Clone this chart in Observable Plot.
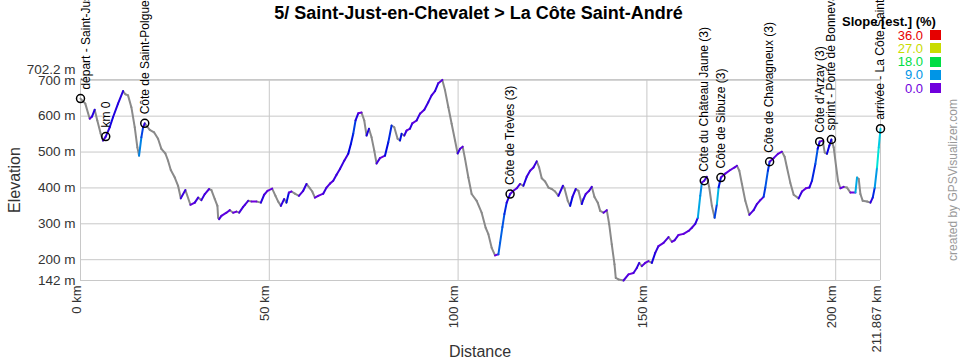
<!DOCTYPE html>
<html><head><meta charset="utf-8">
<script src="https://cdn.jsdelivr.net/npm/d3@7"></script>
<script src="https://cdn.jsdelivr.net/npm/@observablehq/plot@0.6"></script>
<style>
body{margin:0;background:#fff;font-family:"Liberation Sans",Arial,sans-serif;}
#wrap{position:relative;width:960px;height:360px;overflow:hidden;background:#fff;}
#chart{position:absolute;left:0;top:0;}
.ov{position:absolute;white-space:nowrap;}
#title{left:0;width:957px;top:3px;line-height:20px;text-align:center;font-weight:bold;font-size:18px;color:#000;}
#ylab{left:15px;top:180px;transform:translate(-50%,-50%) rotate(-90deg);font-size:16px;color:#333;}
#xlab{left:480px;top:352px;transform:translate(-50%,-50%);font-size:16px;color:#333;}
#credit{left:953px;top:180px;transform:translate(-50%,-50%) rotate(-90deg);font-size:12px;color:#999;}
#legtitle{left:842px;top:14px;line-height:15px;font-weight:bold;font-size:13px;color:#000;}
.legv{right:37px;font-size:13px;line-height:13px;text-align:right;}
.legs{left:930px;width:11px;height:10px;}
</style></head>
<body><div id="wrap"><div id="chart"></div>
<div class="ov" id="title">5/ Saint-Just-en-Chevalet &gt; La Côte Saint-André</div>
<div class="ov" id="ylab">Elevation</div>
<div class="ov" id="xlab">Distance</div>
<div class="ov" id="credit">created by GPSVisualizer.com</div>
<div class="ov" id="legtitle">Slope [est.] (%)</div>
<div id="legend"></div>
</div>
<script>
// Profile (distance in km, elevation in m)
const distKm = [
 0, 1.27, 2.44, 3.05, 3.76, 4.45, 5.35, 5.96, 6.68, 7.74,
 8.61, 9.94, 11.27, 11.88, 12.59, 13.47, 14.37, 15.06, 15.51, 16.12,
 16.57, 17.02, 17.44, 18.34, 19.48, 20.54, 21.42, 22.48, 23.19, 23.91,
 24.97, 25.84, 26.56, 27.78, 29.11, 30.27, 31.15, 32.02, 32.92, 34.06,
 34.67, 35.57, 36.26, 36.45, 36.71, 37.32, 38.65, 39.55, 40.42, 41.30,
 42.02, 43.08, 43.53, 44.40, 45.28, 46.60, 47.77, 48.64, 49.52, 50.76,
 51.64, 52.35, 53.07, 53.94, 54.55, 55.19, 55.88, 56.78, 57.84, 58.98,
 59.85, 60.76, 61.37, 62.08, 62.96, 64.28, 65.16, 66.06, 66.93, 67.81,
 68.71, 69.85, 70.91, 71.62, 72.23, 72.84, 73.56, 74.43, 75.15, 75.76,
 76.40, 77.08, 77.80, 78.41, 79.31, 80.64, 81.51, 82.39, 83.10, 83.98,
 84.61, 85.04, 85.75, 86.36, 87.26, 87.87, 89.01, 89.91, 91.05, 92.11,
 92.99, 93.89, 94.76, 95.82, 96.54, 97.42, 98.29, 99.19, 99.88, 100.52,
 101.21, 101.84, 102.72, 103.59, 104.92, 106.24, 107.30, 108.02, 108.89, 109.79,
 110.67, 111.12, 111.73, 112.26, 112.87, 113.77, 114.65, 115.52, 116.42, 117.30,
 118.17, 119.07, 119.95, 120.82, 121.46, 122.15, 123.05, 123.93, 124.80, 125.70,
 126.57, 127.76, 128.17, 129.04, 129.68, 130.29, 131.16, 131.88, 132.75, 133.20,
 133.81, 134.71, 135.40, 136.12, 136.99, 137.63, 138.50, 139.38, 140.01, 140.70,
 141.42, 141.76, 142.48, 143.81, 145.13, 146.45, 147.33, 147.96, 148.65, 149.55,
 150.43, 151.31, 152.21, 153.08, 154.41, 155.73, 156.61, 157.32, 158.38, 159.71,
 161.03, 161.91, 162.81, 163.50, 164.13, 164.56, 165.19, 165.88, 166.52, 167.21,
 167.93, 168.54, 168.99, 169.60, 170.76, 172.09, 173.23, 173.84, 174.48, 175.17,
 176.06, 177.12, 178.26, 179.14, 180.04, 180.91, 181.36, 182.05, 182.50, 183.56,
 184.70, 185.77, 186.48, 187.09, 187.99, 188.87, 190.19, 191.07, 192.13, 193.03,
 193.72, 194.62, 195.23, 195.76, 196.56, 197.09, 197.69, 198.33, 198.86, 199.47,
 200.08, 200.61, 201.25, 202.12, 203.00, 203.90, 205.22, 205.65, 206.10, 206.55,
 207.16, 208.30, 209.20, 209.81, 210.34, 210.95, 211.40, 211.867
];
const elevM = [
 649, 635, 593, 599, 618, 588, 551, 532, 543, 569,
 597, 635, 670, 661, 658, 625, 569, 513, 490, 541,
 569, 580, 574, 562, 555, 537, 509, 496, 476, 450,
 429, 406, 371, 394, 353, 359, 373, 366, 383, 397,
 394, 369, 350, 317, 313, 322, 331, 338, 331, 334,
 331, 347, 353, 364, 362, 362, 359, 381, 392, 398,
 378, 362, 350, 369, 359, 387, 390, 384, 378, 392,
 411, 399, 390, 373, 378, 384, 401, 412, 420, 437,
 453, 476, 495, 523, 551, 588, 608, 610, 588, 546,
 565, 541, 504, 468, 483, 490, 527, 574, 569, 537,
 532, 551, 546, 560, 565, 580, 588, 607, 618, 639,
 658, 670, 692, 701, 672, 625, 579, 532, 496, 509,
 515, 481, 429, 383, 364, 331, 289, 271, 233, 212,
 215, 247, 291, 327, 359, 383, 392, 399, 411, 406,
 431, 448, 457, 474, 457, 427, 418, 401, 397, 390,
 378, 406, 399, 364, 350, 375, 397, 392, 355, 369,
 383, 392, 403, 375, 359, 336, 331, 338, 299, 243,
 187, 149, 145, 142, 159, 163, 177, 191, 182, 191,
 196, 191, 219, 238, 247, 263, 250, 254, 269, 272,
 280, 289, 300, 317, 378, 415, 420, 431, 401, 350,
 317, 355, 401, 429, 440, 450, 457, 462, 448, 411,
 364, 325, 338, 355, 366, 375, 401, 448, 473, 483,
 495, 501, 487, 457, 414, 381, 371, 390, 399, 401,
 420, 467, 509, 529, 532, 499, 495, 518, 535, 513,
 462, 420, 399, 403, 401, 387, 387, 429, 425, 383,
 364, 362, 359, 373, 401, 457, 513, 565
];

// Waypoints
const wpNames = ["départ - Saint-Just-en-Chevalet", "km 0", "Côte de Saint-Polgues", "Côte de Trèves (3)",
  "Côte du Château Jaune (3)", "Côte de Sibuze (3)", "Côte de Chavagneux (3)", "Côte d'Arzay (3)",
  "sprint - Porte de Bonnevaux", "arrivée - La Côte Saint-André"];
const wpKm = [0, 6.68, 17.02, 113.77, 165.19, 169.60, 182.50, 195.76, 198.86, 211.867];
const wpElev = [649, 543, 580, 383, 420, 429, 473, 529, 535, 565];

// Axis ticks
const xTicks = [0, 50, 100, 150, 200, 211.867];
const xTickLabels = ["0 km", "50 km", "100 km", "150 km", "200 km", "211.867 km"];
const yTicks = [700, 600, 500, 400, 300, 200, 142];
const yMax = 702.2;

// Slope legend
const slopeStops = [0, 9, 18, 27, 36];
const slopeColors = ["#7000dd", "#0095e6", "#00dd44", "#c8dc00", "#e60000"];
const legendValues = [36, 27, 18, 9, 0];

const idx = d3.range(distKm.length - 1);
const segs = idx.map(i => ({
  x1: distKm[i], x2: distKm[i + 1], y1: elevM[i], y2: elevM[i + 1],
  slope: (elevM[i + 1] - elevM[i]) / ((distKm[i + 1] - distKm[i]) * 1000) * 100
}));
const wp = d3.range(wpNames.length);
const font = '"Liberation Sans", Arial, sans-serif';

const chart = Plot.plot({
  width: 960, height: 360,
  marginLeft: 80, marginRight: 80, marginTop: 79, marginBottom: 80,
  x: {domain: [0, 211.867], axis: null},
  y: {domain: [142, yMax], axis: null},
  color: {type: "linear", domain: slopeStops, range: slopeColors, interpolate: "hsl", clamp: true},
  style: {fontFamily: font, background: "transparent", overflow: "visible"},
  marks: [
    Plot.ruleY(yTicks.concat([yMax]), {y: d => d, stroke: "#c8c8c8", strokeOpacity: 1}),
    Plot.ruleX(xTicks, {x: d => d, stroke: "#c8c8c8", strokeOpacity: 1}),
    Plot.text(yTicks, {y: d => d, frameAnchor: "left", textAnchor: "end", dx: -5, text: d => d + " m", fontSize: 13.5, fill: "#333"}),
    Plot.text([yMax], {y: d => d, frameAnchor: "left", textAnchor: "end", dx: -5, dy: -10, text: d => d + " m", fontSize: 13.5, fill: "#333"}),
    Plot.text(d3.range(xTicks.length), {x: i => xTicks[i], frameAnchor: "bottom", rotate: -90, textAnchor: "end", dy: 5, text: i => xTickLabels[i], fontSize: 13, fill: "#333"}),
    Plot.link(segs.filter(s => s.slope < 0), {x1: "x1", y1: "y1", x2: "x2", y2: "y2", stroke: "#8a8a8a", strokeWidth: 2, strokeLinecap: "round"}),
    Plot.link(segs.filter(s => s.slope >= 0), {x1: "x1", y1: "y1", x2: "x2", y2: "y2", stroke: "slope", strokeWidth: 2, strokeLinecap: "round"}),
    Plot.dot(wp, {x: i => wpKm[i], y: i => wpElev[i], r: 4, stroke: "#000", strokeWidth: 1.5, fill: "none"}),
    Plot.text(wp.filter(i => i === 0), {x: i => wpKm[i], y: i => wpElev[i], text: i => wpNames[i], rotate: -90, textAnchor: "start", dx: 6, dy: -9, fontSize: 12, fill: "#000"}),
    Plot.text(wp.filter(i => i > 0), {x: i => wpKm[i], y: i => wpElev[i], text: i => wpNames[i], rotate: -90, textAnchor: "start", dy: -9, fontSize: 12, fill: "#000"})
  ]
});
document.getElementById("chart").appendChild(chart);

// Legend (colors from the plot's color scale)
const cs = chart.scale("color");
const colorOf = v => (cs && cs.apply) ? cs.apply(v) : slopeColors[slopeStops.indexOf(v)];
const leg = document.getElementById("legend");
legendValues.forEach((v, k) => {
  const cy = 35 + k * 13.3;
  const c = colorOf(v);
  const t = document.createElement("div");
  t.className = "ov legv"; t.style.top = (cy - 6.5) + "px"; t.style.color = c;
  t.textContent = v.toFixed(1);
  leg.appendChild(t);
  const s = document.createElement("div");
  s.className = "ov legs"; s.style.top = (cy - 5) + "px"; s.style.background = c;
  leg.appendChild(s);
});
</script>
</body></html>
